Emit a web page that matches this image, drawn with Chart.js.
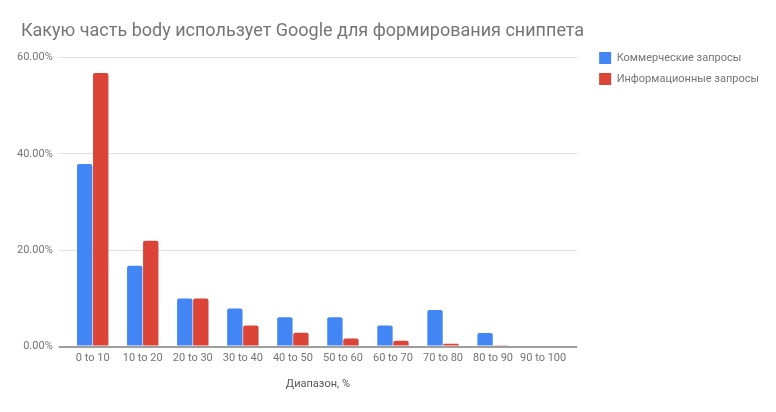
<!DOCTYPE html>
<html>
<head>
<meta charset="utf-8">
<script src="https://cdn.jsdelivr.net/npm/chart.js@4"></script>
<style>
  html, body { margin: 0; padding: 0; background: #fff; }
  #wrap { width: 776px; height: 412px; }
</style>
</head>
<body>
<div id="wrap"><canvas id="bodyChart"></canvas></div>
<script>
var ranges = ["0 to 10", "10 to 20", "20 to 30", "30 to 40", "40 to 50",
    "50 to 60", "60 to 70", "70 to 80", "80 to 90", "90 to 100"];
var commercial = [37.9, 16.8, 10.0, 7.9, 6.1, 6.1, 4.4, 7.6, 2.8, 0];
var informational = [56.8, 22.0, 10.0, 4.4, 2.9, 1.7, 1.2, 0.6, 0.3, 0];
var seriesNames = ["Коммерческие запросы", "Информационные запросы"];
var gray = '#757575';

var ctx = document.getElementById("bodyChart");

var dataFirst = {
    label: seriesNames[0],
    data: commercial,
    backgroundColor: '#4285F4',
    borderRadius: 2,
    borderSkipped: 'bottom',
    barPercentage: 0.96,
    categoryPercentage: 0.64
};

var dataSecond = {
    label: seriesNames[1],
    data: informational,
    backgroundColor: '#DB4437',
    borderRadius: 2,
    borderSkipped: 'bottom',
    barPercentage: 0.96,
    categoryPercentage: 0.64
};

// nudge the title a bit to the right, like the original
var titleIndent = {
    id: 'titleIndent',
    afterLayout: function (chart) {
        if (chart.titleBlock) chart.titleBlock.left += 10;
    }
};

// baseline darker than the other gridlines
function lineColor(c) { return c.tick && c.tick.value === 0 ? '#9e9e9e' : '#e0e0e0'; }
function lineWidth(c) { return c.tick && c.tick.value === 0 ? 2 : 1; }

var chart = new Chart(ctx, {
    type: 'bar',
    data: { labels: ranges, datasets: [dataFirst, dataSecond] },
    plugins: [titleIndent],
    options: {
        responsive: true,
        maintainAspectRatio: false,
        animation: false,
        layout: { padding: { left: 11, right: 7, top: 4, bottom: 17 } },
        plugins: {
            title: {
                display: true,
                text: "Какую часть body использует Google для формирования сниппета",
                align: 'start',
                color: gray,
                font: { family: 'Roboto', size: 18, weight: 'normal' },
                padding: { top: 17, bottom: 15 }
            },
            legend: {
                position: 'right',
                align: 'start',
                maxWidth: 240,
                title: {
                    display: true,
                    text: ' ',
                    font: { family: 'Roboto', size: 10 },
                    padding: { top: 27, bottom: 0 }
                },
                labels: {
                    boxWidth: 12,
                    boxHeight: 12,
                    padding: 9,
                    color: gray,
                    font: { family: 'Roboto', size: 11 }
                }
            },
            tooltip: { enabled: false }
        },
        scales: {
            x: {
                grid: { display: false, drawTicks: false },
                border: { display: false },
                ticks: { color: gray, font: { family: 'Roboto', size: 11 }, padding: 5, maxRotation: 0 },
                title: {
                    display: true,
                    text: "Диапазон, %",
                    color: '#555',
                    font: { family: 'Roboto', size: 11 },
                    padding: { top: 8 }
                }
            },
            y: {
                min: 0,
                max: 60,
                ticks: {
                    stepSize: 20,
                    color: gray,
                    font: { family: 'Roboto', size: 11 },
                    padding: 6,
                    callback: function (v) { return v.toFixed(2) + '%'; }
                },
                grid: { color: lineColor, lineWidth: lineWidth, drawTicks: true, tickLength: 9 },
                border: { display: false }
            },
            gap: {
                position: 'right',
                min: 0,
                max: 60,
                grid: { color: lineColor, lineWidth: lineWidth, drawOnChartArea: false, drawTicks: true, tickLength: 9 },
                border: { display: false },
                ticks: { display: false, stepSize: 20 },
                afterFit: function (scale) { scale.width = 22; }
            }
        }
    }
});
</script>
</body>
</html>
